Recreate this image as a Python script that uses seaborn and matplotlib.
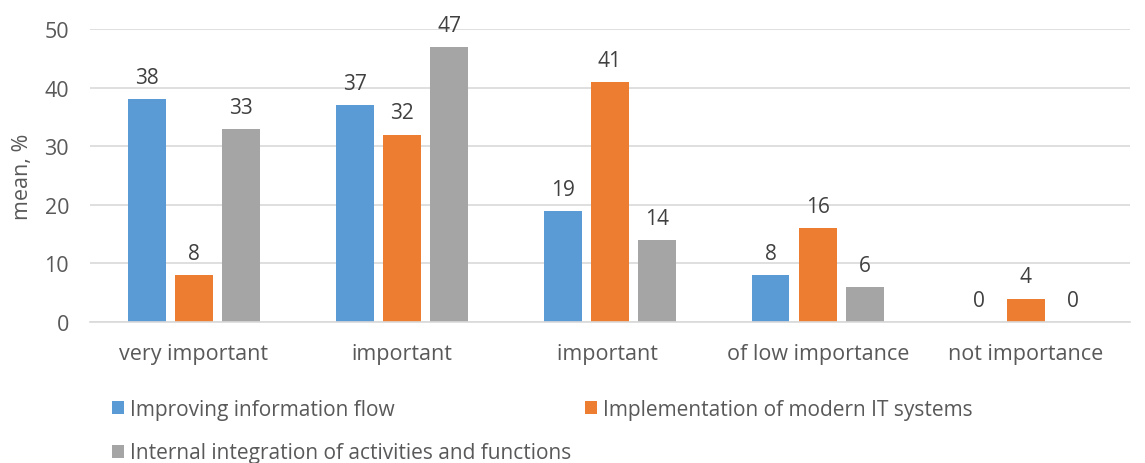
import matplotlib
matplotlib.use("Agg")
import matplotlib.pyplot as plt
import seaborn as sns
import pandas as pd

categories = ["very important", "important", "important ", "of low importance", "not importance"]
series = ["Improving information flow",
          "Implementation of modern IT systems",
          "Internal integration of activities and functions"]
info_flow = [38, 37, 19, 8, 0]
it_systems = [8, 32, 41, 16, 4]
integration = [33, 47, 14, 6, 0]
y_ticks = [0, 10, 20, 30, 40, 50]

colors = ["#5B9BD5", "#ED7D31", "#A5A5A5"]
text_color = "#595959"

sns.set_theme(style="white")
plt.rcParams["font.family"] = ["Open Sans", "DejaVu Sans"]

rows = []
for name, vals in zip(series, [info_flow, it_systems, integration]):
    for cat, v in zip(categories, vals):
        rows.append({"category": cat, "series": name, "value": v})
df = pd.DataFrame(rows)

fig = plt.figure(figsize=(11.45, 4.64), dpi=100)
ax = fig.add_axes([0.0786, 0.304, 0.908, 0.631])

sns.barplot(data=df, x="category", y="value", hue="series", order=categories,
            hue_order=series, palette=colors, width=0.68, gap=0.2,
            saturation=1, linewidth=0, ax=ax, legend=True, errorbar=None)

for cont in ax.containers:
    ax.bar_label(cont, fmt="%d", padding=8, fontsize=15, color="#404040")

ax.set_ylim(0, 50)
ax.set_yticks(y_ticks)
ax.yaxis.grid(True, color="#D9D9D9", linewidth=1.2)
ax.set_axisbelow(True)
for s in ["top", "right", "left"]:
    ax.spines[s].set_visible(False)
ax.spines["bottom"].set_color("#D9D9D9")
ax.spines["bottom"].set_linewidth(1.2)
ax.tick_params(axis="both", length=0, labelsize=15.5, colors=text_color)
ax.tick_params(axis="x", pad=15)
ax.tick_params(axis="y", pad=15)
ax.set_xlabel("")
ax.set_ylabel("mean, %", fontsize=15.5, color=text_color)
ax.yaxis.set_label_coords(-0.055, 0.5)

# legend laid out row by row: two entries on the first row, one on the second
handles, labels = ax.get_legend_handles_labels()
ax.get_legend().remove()
common = dict(loc="upper left", frameon=False, borderpad=0, borderaxespad=0,
              handlelength=0.58, handleheight=0.58, handletextpad=0.3,
              labelspacing=1.08, fontsize=15, labelcolor=text_color)
fig.legend([handles[0], handles[2]], [labels[0], labels[2]],
           bbox_to_anchor=(0.0978, 0.138), **common)
fig.legend([handles[1]], [labels[1]], bbox_to_anchor=(0.511, 0.138), **common)

fig.savefig("out.png", dpi=100)
